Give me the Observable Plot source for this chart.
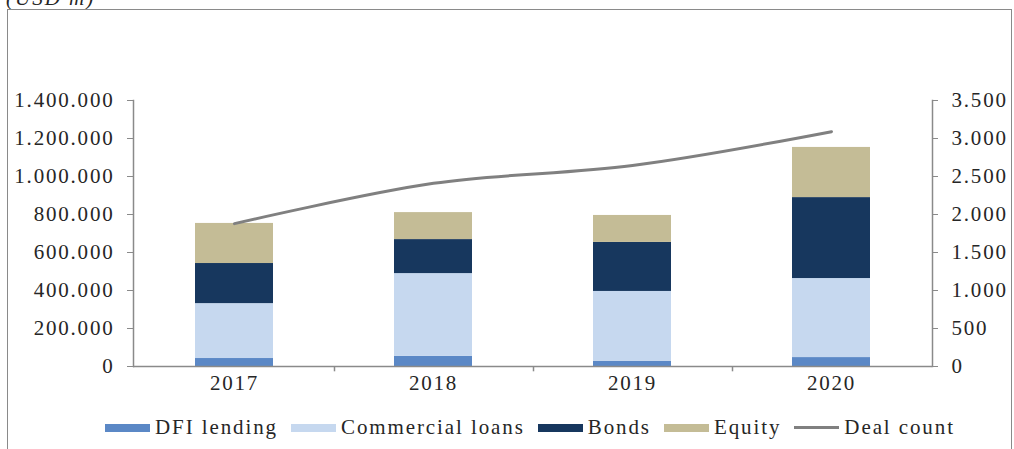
<!DOCTYPE html>
<html>
<head>
<meta charset="utf-8">
<script src="https://cdn.jsdelivr.net/npm/d3@7"></script>
<script src="https://cdn.jsdelivr.net/npm/@observablehq/plot@0.6"></script>
<style>
  html, body { margin: 0; padding: 0; background: #fff; }
  #wrap { position: relative; width: 1014px; height: 449px; overflow: hidden; font-family: "Liberation Serif", serif; color: #262626; }
  #title { position: absolute; left: 6px; top: -14px; font-style: italic; font-size: 21px; letter-spacing: 2px; }
  #box { position: absolute; left: 7px; top: 9px; width: 1003px; height: 470px; border: 1.5px solid #8a8a8a; border-bottom: none; }
  #chart { position: absolute; left: 0; top: 0; }
  #chart svg text { letter-spacing: 1.8px; }
  #legend { position: absolute; left: 105px; top: 415px; display: flex; align-items: center; font-size: 21px; letter-spacing: 1.9px; white-space: nowrap; }
  .item { display: flex; align-items: center; margin-right: 13px; }
  .sw { width: 45px; height: 8px; margin-right: 5px; }
  .ln { width: 45px; height: 2.5px; margin-right: 5px; }
</style>
</head>
<body>
<div id="wrap">
  <div id="title">(USD m)</div>
  <div id="box"></div>
  <div id="chart"></div>
  <div id="legend"></div>
</div>
<script>
const years = ["2017", "2018", "2019", "2020"];
const seriesNames = ["DFI lending", "Commercial loans", "Bonds", "Equity"];
const dfiLending = [42000, 53000, 28000, 47000];
const commercialLoans = [289000, 436000, 367000, 416000];
const bonds = [211000, 179000, 258000, 426000];
const equity = [211000, 142000, 142000, 264000];
const dealCount = [1880, 2410, 2645, 3090];
const leftTicks = [0, 200000, 400000, 600000, 800000, 1000000, 1200000, 1400000];
const rightTicks = [0, 500, 1000, 1500, 2000, 2500, 3000, 3500];
const colors = ["#5b88c6", "#c6d8ef", "#17375e", "#c4bc96"];
const lineColor = "#808080";

const seriesValues = [dfiLending, commercialLoans, bonds, equity];
const table = [];
years.forEach((y, i) => {
  seriesNames.forEach((s, k) => table.push({year: y, series: s, value: seriesValues[k][i]}));
});
const dealTable = years.map((y, i) => ({year: y, count: dealCount[i]}));
const ratio = leftTicks[leftTicks.length - 1] / rightTicks[rightTicks.length - 1];

const loc = d3.formatLocale({decimal: ",", thousands: ".", grouping: [3], currency: ["", ""]});
const fmt = loc.format(",");

const chart = Plot.plot({
  width: 1014,
  height: 400,
  marginLeft: 133,
  marginRight: 82,
  marginTop: 100,
  marginBottom: 34,
  style: {fontFamily: "Liberation Serif, serif", fontSize: "21px", color: "#262626", background: "transparent"},
  x: {domain: years, paddingInner: 0.61, paddingOuter: 0.305, label: null},
  y: {domain: [0, leftTicks[leftTicks.length - 1]], label: null},
  color: {domain: seriesNames, range: colors},
  marks: [
    Plot.barY(table, {x: "year", y: "value", fill: "series"}),
    Plot.line(dealTable, {x: "year", y: d => d.count * ratio, stroke: lineColor, strokeWidth: 3, curve: "catmull-rom"}),
    Plot.ruleY([0], {stroke: "#8a8a8a", strokeWidth: 1.5}),
    Plot.frame({anchor: "left", stroke: "#8a8a8a", strokeWidth: 1.5}),
    Plot.frame({anchor: "right", stroke: "#8a8a8a", strokeWidth: 1.5}),
    Plot.ruleX(years.slice(0, -1), {dx: 100, y1: 0, y2: -28000, stroke: "#8a8a8a", strokeWidth: 1.5}),
    Plot.axisX({tickSize: 0, tickPadding: 9, fontSize: 21, label: null}),
    Plot.axisY({anchor: "left", ticks: leftTicks, tickFormat: fmt, tickSize: 6, tickPadding: 13, fontSize: 21, stroke: "#8a8a8a", label: null}),
    Plot.axisY({anchor: "right", ticks: rightTicks.map(v => v * ratio), tickFormat: d => fmt(Math.round(d / ratio)), tickSize: 5, tickPadding: 14, fontSize: 21, stroke: "#8a8a8a", label: null})
  ]
});
document.getElementById("chart").appendChild(chart);

const legend = document.getElementById("legend");
seriesNames.forEach((s, k) => {
  const it = document.createElement("div");
  it.className = "item";
  it.innerHTML = `<span class="sw" style="background:${colors[k]}"></span><span>${s}</span>`;
  legend.appendChild(it);
});
const it = document.createElement("div");
it.className = "item";
it.innerHTML = `<span class="ln" style="background:${lineColor}"></span><span>Deal count</span>`;
legend.appendChild(it);
</script>
</body>
</html>
